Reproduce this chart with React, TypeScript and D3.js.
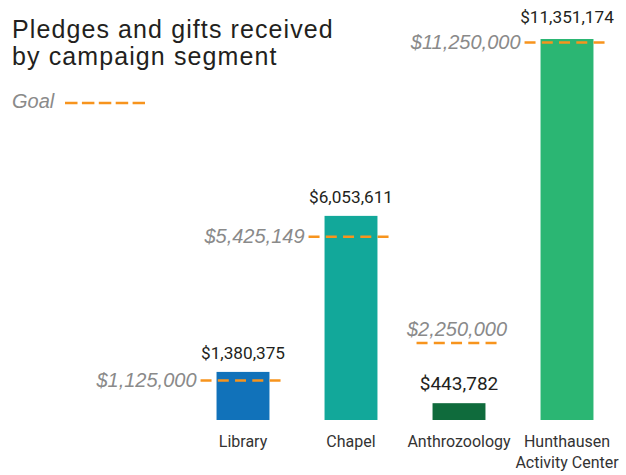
import React from "react";
import * as d3 from "d3";

const categories = ["Library", "Chapel", "Anthrozoology", "Hunthausen Activity Center"];
const received = [1380375, 6053611, 443782, 11351174];
const goals = [1125000, 5425149, 2250000, 11250000];
const barColors = ["#1172BA", "#12A89A", "#0F6B3C", "#2BB673"];
const titleLines = ["Pledges and gifts received", "by campaign segment"];

const W = 626;
const H = 475;
const ORANGE = "#F7941D";
const fmt = (v: number) => "$" + d3.format(",")(v);

export default function App() {
  const x = d3.scalePoint<string>().domain(categories).range([189, 621]).padding(0.5);
  const step = x.step();
  const bw = step * 0.49;
  const y = d3.scaleLinear().domain([0, d3.max(received)!]).range([418, 39]);
  const baseY = 420;
  const ext = 16;

  return (
    <svg width={W} height={H} style={{ position: "absolute", left: 0, top: 0, background: "#fff" }}>
      <g fontFamily="'Liberation Sans', Arial, sans-serif" fontSize={25} fill="#231f20" letterSpacing={1.1}>
        {titleLines.map((t, i) => (
          <text key={i} x={12} y={37.7 + i * 27.3}>{t}</text>
        ))}
      </g>
      <text x={12} y={108} fontFamily="'Liberation Sans', Arial, sans-serif" fontStyle="italic" fontSize={20} fill="#8a8a8a">Goal</text>
      <line x1={65} x2={145} y1={103} y2={103} stroke={ORANGE} strokeWidth={2.5} strokeDasharray="12.5,4.4" />

      {categories.map((c, i) => {
        const cx = x(c)!;
        const v = received[i];
        const g = goals[i];
        const yv = y(v);
        const yg = y(g);
        const goalAbove = g > v;
        const words = c === "Hunthausen Activity Center" ? ["Hunthausen", "Activity Center"] : [c];
        const valLabelY = goalAbove ? yv - 13 : Math.min(yv - 12.5, yg - 19);
        return (
          <g key={c}>
            <rect x={cx - bw / 2} y={yv} width={bw} height={baseY - yv} fill={barColors[i]} />
            <line x1={cx - bw / 2 - ext} x2={cx + bw / 2 + ext} y1={yg} y2={yg}
              stroke={ORANGE} strokeWidth={2.5} strokeDasharray="11,6.25" />
            {goalAbove ? (
              <text x={cx - 2} y={yg - 7} textAnchor="middle" fontFamily="'Liberation Sans', Arial, sans-serif"
                fontStyle="italic" fontSize={20} fill="#8a8a8a">{fmt(g)}</text>
            ) : (
              <text x={cx - bw / 2 - ext - 4} y={yg + 6.5} textAnchor="end" fontFamily="'Liberation Sans', Arial, sans-serif"
                fontStyle="italic" fontSize={20} fill="#8a8a8a">{fmt(g)}</text>
            )}
            <text x={cx} y={valLabelY} textAnchor="middle" fontFamily="Roboto, sans-serif"
              fontSize={goalAbove ? 19 : 17.2} fill="#231f20">{fmt(v)}</text>
            {words.map((w, j) => (
              <text key={j} x={cx} y={447 + j * 20.5} textAnchor="middle" fontFamily="Roboto, sans-serif"
                fontSize={16} fill="#333">{w}</text>
            ))}
          </g>
        );
      })}
    </svg>
  );
}
